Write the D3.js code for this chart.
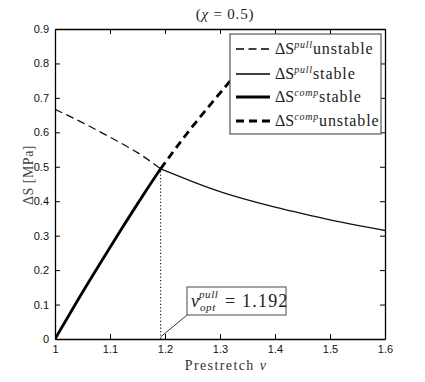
<!DOCTYPE html>
<html><head><meta charset="utf-8">
<script src="https://cdn.jsdelivr.net/npm/d3@7"></script>
<style>
body{margin:0;background:#fff;}
svg{display:block;}
.tick text{font-family:"Liberation Sans",Arial,sans-serif;font-size:11px;fill:#111;}
.serif{font-family:"Liberation Serif","Times New Roman",serif;}
</style></head>
<body>
<svg id="chart" width="425" height="382"></svg>
<script>
// ---- data ----
const xTicks = [1, 1.1, 1.2, 1.3, 1.4, 1.5, 1.6];
const yTicks = [0, 0.1, 0.2, 0.3, 0.4, 0.5, 0.6, 0.7, 0.8, 0.9];
const pullUnstableNu = [1, 1.05, 1.1, 1.15, 1.192];
const pullUnstableS  = [0.667, 0.628, 0.586, 0.541, 0.494];
const pullStableNu = [1.192, 1.25, 1.3, 1.35, 1.4, 1.45, 1.5, 1.55, 1.6];
const pullStableS  = [0.494, 0.457, 0.428, 0.404, 0.383, 0.364, 0.346, 0.330, 0.315];
const compStableNu = [1, 1.04, 1.08, 1.12, 1.16, 1.192];
const compStableS  = [0, 0.109, 0.214, 0.317, 0.417, 0.494];
const compUnstableNu = [1.192, 1.25, 1.31, 1.34];
const compUnstableS  = [0.494, 0.617, 0.733, 0.79];
const nuOpt = 1.192;
const optS = 0.494;

const svg = d3.select("#chart");
const L = 55, R = 385, T = 29, B = 339;
const x = d3.scaleLinear().domain([1, 1.6]).range([L, R]);
const y = d3.scaleLinear().domain([0, 0.9]).range([B, T]);

svg.append("clipPath").attr("id","clip").append("rect")
  .attr("x",L).attr("y",T).attr("width",R-L).attr("height",B-T);

const line = d3.line().x(d=>x(d[0])).y(d=>y(d[1])).curve(d3.curveNatural);
const zip = (a,b)=>a.map((v,i)=>[v,b[i]]);
const g = svg.append("g").attr("clip-path","url(#clip)");

g.append("line").attr("x1",x(nuOpt)).attr("x2",x(nuOpt)).attr("y1",y(0)).attr("y2",y(optS))
  .attr("stroke","#222").attr("stroke-width",1.2).attr("stroke-dasharray","1.2,2.2");

g.append("path").datum(zip(pullUnstableNu,pullUnstableS)).attr("d",line)
  .attr("fill","none").attr("stroke","#111").attr("stroke-width",1.3).attr("stroke-dasharray","8,4.5");
g.append("path").datum(zip(pullStableNu,pullStableS)).attr("d",line)
  .attr("fill","none").attr("stroke","#111").attr("stroke-width",1.3);
g.append("path").datum(zip(compStableNu,compStableS)).attr("d",line)
  .attr("fill","none").attr("stroke","#000").attr("stroke-width",2.8);
g.append("path").datum(zip(compUnstableNu,compUnstableS)).attr("d",line)
  .attr("fill","none").attr("stroke","#000").attr("stroke-width",2.8).attr("stroke-dasharray","8,5");

const fmt = d=>String(d);
svg.append("g").attr("transform",`translate(0,${B})`)
  .call(d3.axisBottom(x).tickValues(xTicks).tickFormat(fmt).tickSizeInner(-5).tickSizeOuter(0).tickPadding(6))
  .call(a=>a.select(".domain").attr("stroke","#000").attr("stroke-width",1.3))
  .call(a=>a.selectAll(".tick line").attr("stroke","#000"));
svg.append("g").attr("transform",`translate(0,${T})`)
  .call(d3.axisTop(x).tickValues(xTicks).tickFormat("").tickSizeInner(-5).tickSizeOuter(0))
  .call(a=>a.select(".domain").attr("stroke","#000").attr("stroke-width",1.3));
svg.append("g").attr("transform",`translate(${L},0)`)
  .call(d3.axisLeft(y).tickValues(yTicks).tickFormat(fmt).tickSizeInner(-5).tickSizeOuter(0).tickPadding(6))
  .call(a=>a.select(".domain").attr("stroke","#000").attr("stroke-width",1.3));
svg.append("g").attr("transform",`translate(${R},0)`)
  .call(d3.axisRight(y).tickValues(yTicks).tickFormat("").tickSizeInner(-5).tickSizeOuter(0))
  .call(a=>a.select(".domain").attr("stroke","#000").attr("stroke-width",1.3));

// title
const title = svg.append("text").attr("class","serif").attr("x",225).attr("y",19)
  .attr("text-anchor","middle").attr("font-size",15).attr("fill","#222").attr("letter-spacing",0.8);
title.append("tspan").text("(");
title.append("tspan").attr("font-style","italic").text("χ");
title.append("tspan").text(" = 0.5)");

// x label
const xl = svg.append("text").attr("class","serif").attr("x",226).attr("y",370)
  .attr("text-anchor","middle").attr("font-size",14).attr("fill","#333").attr("letter-spacing",1.4);
xl.append("tspan").text("Prestretch ");
xl.append("tspan").attr("font-style","italic").text("ν");

// y label
svg.append("text").attr("class","serif").attr("transform","translate(33,175) rotate(-90)")
  .attr("text-anchor","middle").attr("font-size",14).attr("fill","#444").attr("letter-spacing",0.5)
  .text("ΔS [MPa]");

// legend
const legendItems = [
  {sup:"pull", word:"unstable", w:1.3, dash:"8,4.5"},
  {sup:"pull", word:"stable", w:1.3, dash:null},
  {sup:"comp", word:"stable", w:2.8, dash:null},
  {sup:"comp", word:"unstable", w:2.8, dash:"8,5"}
];
const lg = svg.append("g");
lg.append("rect").attr("x",230).attr("y",34).attr("width",151).attr("height",100)
  .attr("fill","#fff").attr("stroke","#555").attr("stroke-width",1.2);
const rowY = [49, 74, 97, 121];
legendItems.forEach((it,i)=>{
  lg.append("line").attr("x1",236).attr("x2",270).attr("y1",rowY[i]).attr("y2",rowY[i])
    .attr("stroke","#000").attr("stroke-width",it.w).attr("stroke-dasharray",it.dash);
  const t = lg.append("text").attr("class","serif").attr("x",275).attr("y",rowY[i]+5)
    .attr("font-size",16).attr("fill","#222");
  t.append("tspan").text("ΔS");
  t.append("tspan").attr("font-size",10).attr("font-style","italic").attr("letter-spacing",0.8).attr("dy",-6).text(it.sup);
  t.append("tspan").attr("dy",6).attr("letter-spacing",0.9).text(it.word);
});

// annotation
const ax0 = x(nuOpt), ay0 = y(0) - 2;
svg.append("line").attr("x1",ax0).attr("y1",ay0).attr("x2",187).attr("y2",315)
  .attr("stroke","#333").attr("stroke-width",1);
svg.append("rect").attr("x",187).attr("y",287).attr("width",99).attr("height",28)
  .attr("fill","#fff").attr("stroke","#666").attr("stroke-width",1.2);
const at = svg.append("text").attr("class","serif").attr("x",191).attr("y",307)
  .attr("font-size",18).attr("fill","#222");
at.append("tspan").attr("font-style","italic").text("ν");
at.append("tspan").attr("font-size",11).attr("font-style","italic").attr("letter-spacing",0.6).attr("dy",-9).text("pull");
at.append("tspan").attr("font-size",11).attr("font-style","italic").attr("letter-spacing",0.6).attr("x",200).attr("dy",13).text("opt");
at.append("tspan").attr("x",225).attr("dy",-4).attr("letter-spacing",1.2).text("= 1.192");
</script>
</body></html>
